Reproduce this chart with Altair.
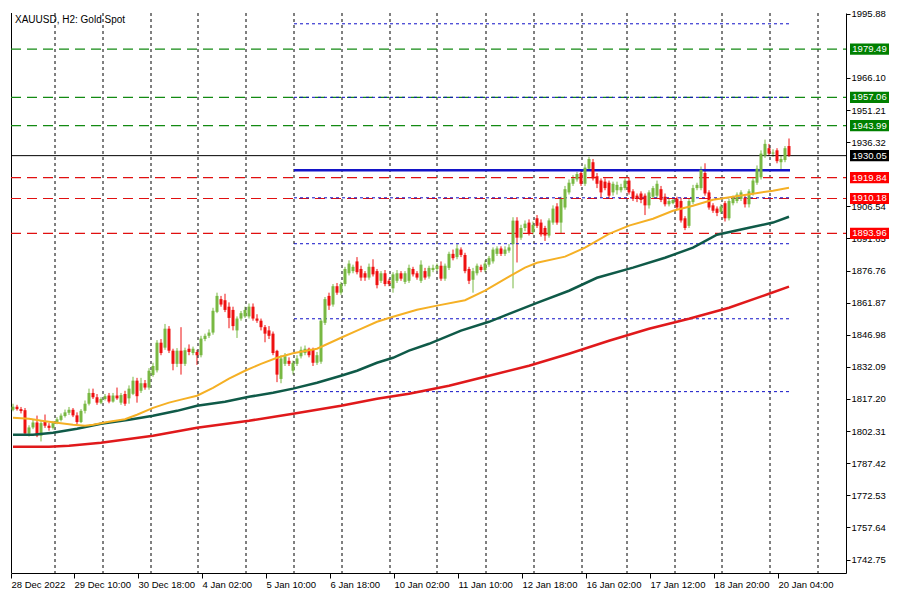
import altair as alt
import pandas as pd

# ---------------- data ----------------
opens = [1812.2, 1813.6, 1812.5, 1812.0, 1801.2, 1804.0, 1806.3, 1800.2, 1806.5, 1804.8,
         1803.8, 1806.0, 1807.5, 1809.3, 1810.8, 1812.2, 1809.6, 1806.5, 1811.7, 1815.0,
         1820.0, 1818.0, 1815.5, 1817.2, 1818.8, 1816.0, 1818.8, 1815.5, 1819.5, 1817.5,
         1819.6, 1825.7, 1821.0, 1824.5, 1822.5, 1828.3, 1830.5, 1843.3, 1841.0, 1849.8,
         1839.6, 1833.5, 1839.6, 1833.5, 1840.5, 1838.5, 1839.0, 1837.5, 1845.0, 1846.5,
         1848.0, 1857.6, 1863.5, 1863.0, 1860.0, 1858.5, 1849.0, 1854.5, 1855.5, 1855.5,
         1860.0, 1854.5, 1853.5, 1850.5, 1849.0, 1847.5, 1839.5, 1826.5, 1833.5, 1834.9,
         1830.3, 1833.5, 1837.0, 1838.5, 1840.5, 1840.0, 1834.0, 1834.5, 1852.5, 1865.0,
         1861.0, 1869.5, 1866.5, 1870.5, 1875.5, 1876.5, 1881.0, 1877.5, 1875.5, 1873.5,
         1878.5, 1876.5, 1872.0, 1875.5, 1872.0, 1868.5, 1872.0, 1875.5, 1871.5, 1872.0,
         1877.5, 1875.5, 1872.0, 1876.5, 1874.0, 1877.0, 1877.5, 1879.0, 1873.0, 1878.0,
         1884.5, 1883.0, 1886.5, 1884.0, 1877.5, 1872.5, 1875.5, 1878.5, 1877.0, 1879.5,
         1881.0, 1884.5, 1887.0, 1884.5, 1886.0, 1889.0, 1899.9, 1892.0, 1896.5, 1899.0,
         1894.5, 1901.0, 1899.0, 1896.5, 1893.0, 1899.0, 1906.5, 1899.0, 1906.0, 1913.0,
         1917.0, 1919.0, 1922.0, 1917.0, 1924.0, 1927.0, 1920.5, 1918.5, 1918.0, 1917.5,
         1913.0, 1914.0, 1914.0, 1915.0, 1918.5, 1913.5, 1911.5, 1912.5, 1911.5, 1907.0,
         1911.0, 1911.5, 1914.5, 1911.0, 1907.5, 1908.0, 1910.0, 1909.0, 1901.0, 1897.5,
         1908.5, 1915.0, 1915.0, 1922.0, 1913.0, 1907.0, 1905.5, 1904.0, 1908.0, 1901.0,
         1908.0, 1909.0, 1910.0, 1910.5, 1907.5, 1912.5, 1917.5, 1920.0, 1930.0, 1933.5,
         1931.0, 1932.5, 1927.0, 1928.0, 1934.5]
highs = [1815.0, 1814.5, 1813.5, 1813.0, 1805.0, 1807.5, 1809.5, 1807.0, 1810.0, 1806.0,
         1807.0, 1808.8, 1810.5, 1812.3, 1813.5, 1813.0, 1811.0, 1812.5, 1816.5, 1822.0,
         1822.0, 1819.5, 1818.0, 1819.5, 1820.0, 1820.0, 1822.5, 1820.0, 1821.0, 1823.5,
         1827.5, 1827.0, 1827.0, 1826.0, 1831.5, 1834.0, 1844.5, 1845.0, 1852.0, 1851.0,
         1840.5, 1840.8, 1850.5, 1841.0, 1842.5, 1841.5, 1840.0, 1846.5, 1847.5, 1849.5,
         1859.5, 1866.5, 1865.0, 1866.0, 1862.0, 1860.0, 1855.5, 1858.0, 1860.0, 1861.5,
         1861.5, 1856.5, 1854.5, 1851.5, 1851.0, 1848.5, 1840.0, 1837.5, 1838.5, 1836.5,
         1835.0, 1837.5, 1841.5, 1842.0, 1841.0, 1841.0, 1839.0, 1854.5, 1864.5, 1866.5,
         1870.5, 1871.0, 1871.5, 1878.5, 1881.5, 1879.5, 1883.0, 1879.0, 1876.5, 1880.0,
         1882.0, 1877.5, 1876.5, 1877.0, 1873.0, 1876.0, 1877.0, 1876.5, 1876.5, 1879.5,
         1878.5, 1876.5, 1881.5, 1878.0, 1879.0, 1879.5, 1880.0, 1881.0, 1880.0, 1885.5,
         1886.5, 1889.0, 1887.5, 1885.0, 1878.5, 1878.0, 1880.0, 1879.5, 1881.5, 1883.5,
         1887.5, 1888.0, 1888.0, 1888.0, 1889.0, 1901.5, 1901.5, 1898.0, 1900.0, 1900.5,
         1899.5, 1902.5, 1900.5, 1897.5, 1901.0, 1907.0, 1908.0, 1911.0, 1916.0, 1919.0,
         1921.0, 1922.5, 1923.5, 1926.0, 1929.5, 1928.5, 1922.0, 1919.5, 1919.5, 1918.5,
         1918.0, 1918.0, 1917.0, 1919.5, 1920.0, 1914.5, 1912.5, 1913.5, 1912.5, 1914.0,
         1916.0, 1918.5, 1916.0, 1912.5, 1910.0, 1910.5, 1911.0, 1910.5, 1902.0, 1910.0,
         1916.5, 1917.5, 1925.0, 1926.5, 1914.0, 1908.0, 1906.5, 1907.5, 1909.0, 1910.0,
         1911.5, 1913.0, 1914.0, 1911.5, 1914.5, 1919.5, 1925.5, 1932.5, 1937.5, 1935.5,
         1933.0, 1933.5, 1930.0, 1934.5, 1938.0]
lows = [1811.5, 1811.8, 1810.5, 1800.5, 1799.8, 1803.2, 1799.5, 1797.5, 1803.8, 1802.5,
        1803.0, 1805.5, 1806.8, 1808.6, 1809.8, 1808.8, 1805.5, 1806.0, 1810.5, 1814.2,
        1817.2, 1814.5, 1814.8, 1816.5, 1815.2, 1815.5, 1816.8, 1814.5, 1814.0, 1815.0,
        1819.0, 1815.5, 1820.0, 1821.5, 1821.5, 1827.5, 1829.5, 1837.5, 1840.0, 1838.5,
        1830.5, 1832.0, 1828.5, 1832.5, 1837.5, 1837.5, 1833.0, 1836.5, 1844.0, 1845.5,
        1847.0, 1857.0, 1860.0, 1857.5, 1850.0, 1849.0, 1845.5, 1853.5, 1854.8, 1854.5,
        1853.5, 1852.5, 1849.0, 1843.5, 1845.0, 1837.5, 1825.0, 1824.5, 1832.5, 1832.5,
        1828.5, 1832.5, 1836.0, 1837.5, 1836.5, 1832.5, 1833.0, 1833.5, 1851.5, 1858.5,
        1860.0, 1865.5, 1865.5, 1869.5, 1874.5, 1875.5, 1875.0, 1872.0, 1872.0, 1872.5,
        1874.0, 1868.5, 1871.0, 1869.5, 1869.5, 1866.5, 1871.0, 1872.0, 1870.5, 1871.0,
        1874.0, 1872.5, 1871.0, 1872.5, 1873.0, 1876.0, 1876.5, 1872.0, 1872.0, 1877.0,
        1881.5, 1882.0, 1883.0, 1875.5, 1870.5, 1866.5, 1874.5, 1876.0, 1876.0, 1878.5,
        1880.0, 1883.5, 1883.5, 1883.5, 1885.0, 1868.5, 1880.5, 1891.0, 1895.0, 1893.0,
        1893.5, 1896.5, 1892.5, 1890.5, 1892.0, 1898.0, 1898.0, 1894.0, 1905.0, 1912.0,
        1916.0, 1918.0, 1916.0, 1916.0, 1923.0, 1918.5, 1915.0, 1910.5, 1914.0, 1910.0,
        1911.5, 1912.0, 1913.0, 1914.0, 1912.0, 1909.0, 1908.5, 1908.0, 1902.5, 1905.5,
        1910.0, 1910.5, 1908.5, 1906.5, 1906.5, 1907.5, 1905.0, 1899.0, 1895.5, 1896.5,
        1907.5, 1914.0, 1914.0, 1911.5, 1905.0, 1903.5, 1902.0, 1903.0, 1899.5, 1900.0,
        1907.0, 1908.0, 1909.0, 1906.0, 1906.0, 1911.5, 1916.5, 1919.0, 1929.0, 1930.0,
        1929.5, 1926.5, 1923.5, 1927.0, 1929.5]
closes = [1813.6, 1812.5, 1811.6, 1801.2, 1804.0, 1806.3, 1800.2, 1806.0, 1804.8, 1803.8,
          1806.0, 1807.8, 1809.5, 1811.0, 1812.2, 1809.6, 1806.5, 1811.7, 1815.0, 1820.0,
          1818.0, 1815.5, 1817.2, 1818.5, 1816.0, 1818.8, 1817.5, 1819.0, 1815.0, 1822.0,
          1825.7, 1818.5, 1824.5, 1822.5, 1830.3, 1832.5, 1843.3, 1838.5, 1849.8, 1839.6,
          1833.5, 1839.6, 1833.5, 1839.8, 1839.0, 1840.5, 1837.5, 1845.2, 1846.5, 1848.0,
          1858.1, 1865.0, 1861.0, 1858.5, 1854.8, 1851.0, 1854.5, 1857.0, 1858.5, 1860.0,
          1854.5, 1853.5, 1850.5, 1847.5, 1846.5, 1838.5, 1828.5, 1836.0, 1837.0, 1833.5,
          1834.0, 1836.0, 1840.0, 1840.5, 1837.5, 1834.0, 1837.5, 1853.5, 1863.5, 1860.5,
          1869.5, 1866.5, 1870.5, 1877.5, 1880.0, 1878.5, 1876.0, 1873.5, 1873.5, 1878.5,
          1875.0, 1870.0, 1875.5, 1870.5, 1870.5, 1875.0, 1875.5, 1873.0, 1875.5, 1878.0,
          1875.0, 1873.5, 1879.5, 1873.5, 1878.0, 1878.0, 1879.0, 1873.0, 1879.0, 1884.5,
          1882.5, 1887.0, 1884.0, 1876.5, 1872.0, 1876.5, 1879.0, 1877.0, 1880.0, 1882.5,
          1886.5, 1887.0, 1884.5, 1886.5, 1887.5, 1899.9, 1892.0, 1896.5, 1898.5, 1894.0,
          1898.0, 1897.5, 1893.5, 1893.0, 1900.0, 1905.5, 1899.0, 1910.0, 1914.5, 1917.5,
          1919.5, 1921.5, 1917.0, 1924.5, 1928.5, 1919.5, 1917.0, 1913.0, 1915.0, 1911.5,
          1917.0, 1916.5, 1915.5, 1918.5, 1913.0, 1910.0, 1910.0, 1909.5, 1907.0, 1913.0,
          1915.0, 1917.0, 1909.5, 1907.5, 1909.0, 1909.5, 1906.0, 1900.0, 1896.5, 1909.0,
          1915.0, 1916.5, 1923.5, 1912.5, 1906.0, 1904.5, 1903.5, 1906.5, 1901.0, 1909.0,
          1910.5, 1912.0, 1913.0, 1907.5, 1913.5, 1918.5, 1924.0, 1931.0, 1935.5, 1931.0,
          1931.5, 1927.5, 1928.5, 1933.5, 1930.05]

# moving averages, read at a number of bars
fast_idx = [0, 4, 8, 11, 15, 18, 20, 24, 28, 31, 35, 39, 42, 46, 50, 54, 58, 62, 66, 70,
            76, 82, 86, 91, 95, 101, 106, 113, 118, 124, 128, 131, 138, 143, 149, 154, 160,
            165, 170, 175, 180, 185, 190, 194]
fast_val = [1808.5, 1808.0, 1806.9, 1806.2, 1805.3, 1804.8, 1805.3, 1806.6, 1807.8, 1809.9,
            1813.1, 1815.5, 1816.9, 1818.7, 1822.4, 1826.6, 1830.3, 1833.5, 1836.3, 1838.4,
            1840.5, 1845.6, 1848.9, 1853.0, 1855.3, 1858.6, 1860.5, 1863.0, 1867.4, 1873.9,
            1878.1, 1880.4, 1883.2, 1887.4, 1893.8, 1897.6, 1900.8, 1904.5, 1906.8, 1909.6,
            1911.0, 1912.4, 1913.8, 1915.2]
mid_idx = [0, 5, 10, 16, 22, 29, 35, 41, 46, 53, 59, 65, 70, 76, 82, 86, 91, 95, 99, 104,
           112, 119, 124, 131, 139, 146, 155, 163, 170, 176, 184, 190, 194]
mid_val = [1800.6, 1800.6, 1801.5, 1803.4, 1805.7, 1807.6, 1809.4, 1811.7, 1814.1, 1815.9,
           1818.2, 1820.1, 1822.0, 1824.7, 1828.0, 1830.3, 1834.0, 1836.3, 1839.6, 1842.8,
           1848.9, 1853.0, 1856.7, 1861.8, 1867.4, 1873.4, 1878.1, 1882.7, 1887.4, 1893.4,
           1896.6, 1899.0, 1901.7]
slow_idx = [0, 9, 14, 22, 35, 46, 59, 70, 82, 91, 99, 109, 119, 129, 139, 149, 159, 169,
            179, 189, 194]
slow_val = [1795.0, 1795.0, 1795.5, 1796.9, 1800.2, 1803.9, 1807.1, 1810.4, 1814.1, 1817.3,
            1819.6, 1823.3, 1828.0, 1832.6, 1838.2, 1844.2, 1849.8, 1854.4, 1859.5, 1866.0,
            1869.3]

green_levels = [1979.49, 1957.06, 1943.99]
red_levels = [1919.84, 1910.18, 1893.96]
current_price = 1930.05
blue_solid_level = 1923.3
blue_dotted_levels = [1991.2, 1957.1, 1910.5, 1889.2, 1854.4, 1820.6]
blue_span = [70.25, 194.25]

# right-axis price ticks (those fully hidden under the level boxes are left out)
y_ticks = [1995.88, 1966.10, 1951.21, 1936.32, 1906.54, 1891.65, 1876.76,
           1861.87, 1846.98, 1832.09, 1817.20, 1802.31, 1787.42, 1772.53, 1757.64, 1742.75]
x_labels = ['28 Dec 2022', '29 Dec 10:00', '30 Dec 18:00', '4 Jan 02:00', '5 Jan 10:00',
            '6 Jan 18:00', '10 Jan 02:00', '11 Jan 10:00', '12 Jan 18:00', '16 Jan 02:00',
            '17 Jan 12:00', '18 Jan 20:00', '20 Jan 04:00']
x_label_pos = [-0.5, 15.25, 31.25, 47.25, 63.25, 79.25, 95.25, 111.25, 127.25, 143.25,
               159.25, 175.25, 191.25]
grid_pos = [10.5, 22.5, 34.5, 46.25, 58.25, 70.25, 82.25, 94.25, 106.0, 118.25, 130.25,
            142.25, 153.5, 165.5, 177.25, 189.25, 201.25]
chart_title = "XAUUSD, H2:  Gold Spot"

# ---------------- styling ----------------
W, H = 835, 560
FONT = "Liberation Sans"
FS = 9.5
UP, DOWN = "#78b843", "#ee1111"

xs = alt.Scale(domain=[-0.5, 208.25], nice=False, zero=False, padding=0)
ys = alt.Scale(domain=[1736.5, 1996.2], nice=False, zero=False, padding=0)

label_expr = "[" + ",".join("'%s'" % s for s in x_labels) + "][round((datum.value + 0.75) / 16)]"

x_axis = alt.Axis(values=x_label_pos, labelExpr=label_expr, orient="bottom", grid=False,
                  domainColor="black", tickColor="black", tickSize=5, labelAlign="left",
                  labelBaseline="top", labelPadding=1, labelFont=FONT, labelFontSize=FS,
                  labelColor="black", title=None, labelOverlap=False, labelFlush=False,
                  zindex=0)
y_axis = alt.Axis(values=y_ticks, format=".2f", orient="right", grid=False,
                  domainColor="black", tickColor="black", tickSize=4, labelPadding=1,
                  labelFont=FONT, labelFontSize=FS, labelColor="black", title=None,
                  labelOverlap=False, labelFlush=False, zindex=0)


def X(field):
    return alt.X(field, scale=xs, axis=x_axis)


def Y(field):
    return alt.Y(field, scale=ys, axis=y_axis)


candles = pd.DataFrame({"idx": list(range(len(closes))), "o": opens, "h": highs,
                        "l": lows, "c": closes})

up_cond = alt.condition("datum.c >= datum.o", alt.value(UP), alt.value(DOWN))

wicks = alt.Chart(candles).mark_rule(strokeWidth=1).encode(
    x=X("idx:Q"), y=Y("l:Q"), y2="h:Q", color=up_cond)
bodies = alt.Chart(candles).mark_bar(size=3).encode(
    x=X("idx:Q"), y=Y("o:Q"), y2="c:Q", color=up_cond)

grid_df = pd.DataFrame({"g": grid_pos})
grid = alt.Chart(grid_df).mark_rule(color="#000000", strokeWidth=1, strokeDash=[3, 3]).encode(
    x=X("g:Q"), y=alt.value(0), y2=alt.value(H))

left_border = alt.Chart(pd.DataFrame({"a": [0]})).mark_rule(color="black", strokeWidth=1).encode(
    x=alt.value(0.5), y=alt.value(0), y2=alt.value(H))


def hlines(levels, color, dash, width=1.0):
    df = pd.DataFrame({"p": levels})
    mk = dict(color=color, strokeWidth=width)
    if dash:
        mk["strokeDash"] = dash
    return alt.Chart(df).mark_rule(**mk).encode(
        x=alt.value(0), x2=alt.value(W), y=Y("p:Q"))


def spanlines(levels, color, dash, width):
    df = pd.DataFrame({"p": levels, "x0": [blue_span[0]] * len(levels),
                       "x1": [blue_span[1]] * len(levels)})
    mk = dict(color=color, strokeWidth=width)
    if dash:
        mk["strokeDash"] = dash
    return alt.Chart(df).mark_rule(**mk).encode(
        x=X("x0:Q"), x2="x1:Q", y=Y("p:Q"))


green_lines = hlines(green_levels, "#138a13", [10, 6], 1.2)
red_lines = hlines(red_levels, "#e01010", [10, 6], 1.2)
cur_line = hlines([current_price], "#000000", None, 1.0)
blue_dots = spanlines(blue_dotted_levels, "#1010c8", [3, 3], 1.0)
blue_solid = spanlines([blue_solid_level], "#1414c8", None, 2.5)


def ma_line(idx, vals, color, width):
    df = pd.DataFrame({"i": idx, "v": vals})
    return alt.Chart(df).mark_line(color=color, strokeWidth=width).encode(
        x=X("i:Q"), y=Y("v:Q"))


ma_slow = ma_line(slow_idx, slow_val, "#e0191b", 2.5)
ma_mid = ma_line(mid_idx, mid_val, "#0f5a48", 2.5)
ma_fast = ma_line(fast_idx, fast_val, "#f5b025", 2.0)


def price_boxes(levels, fill):
    df = pd.DataFrame({"p": levels})
    base = alt.Chart(df).transform_calculate(lo="datum.p - 2.6", hi="datum.p + 2.6")
    rect = base.mark_rect(color=fill).encode(
        x=alt.value(W + 4), x2=alt.value(W + 43), y=Y("lo:Q"), y2="hi:Q")
    txt = base.mark_text(align="center", baseline="middle", color="white",
                         font=FONT, fontSize=FS).encode(
        x=alt.value(W + 23.5), y=Y("p:Q"), text=alt.Text("p:Q", format=".2f"))
    return rect + txt


boxes_green = price_boxes(green_levels, "#008000")
boxes_red = price_boxes(red_levels, "#ff0000")
boxes_black = price_boxes([current_price], "#000000")

title = alt.Chart(pd.DataFrame({"t": [chart_title]})).mark_text(
    align="left", baseline="top", font=FONT, fontSize=10, color="black").encode(
    text="t:N", x=alt.value(4), y=alt.value(2))

chart = alt.layer(
    wicks, grid, left_border, green_lines, red_lines, blue_dots, blue_solid, cur_line,
    bodies, ma_slow, ma_mid, ma_fast, boxes_green, boxes_red, boxes_black, title,
).properties(width=W, height=H, padding=0).configure_view(stroke=None)

chart.save("out.html", embed_options={"renderer": "svg", "actions": False})
